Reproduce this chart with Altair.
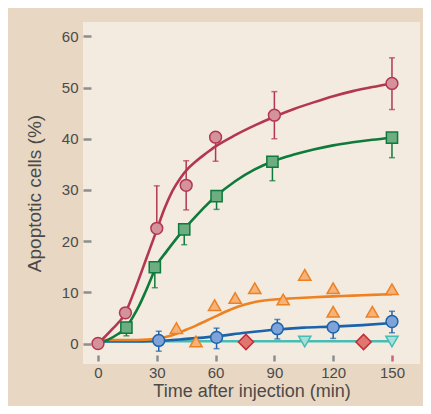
import altair as alt
import pandas as pd

# ---------------- data ----------------
# red circles
red_t = [0, 14, 30, 45, 60, 90, 150]
red_v = [0, 6.0, 22.5, 30.9, 40.3, 44.6, 50.8]
red_lo = [0, 6.0, 22.5, 26.1, 35.6, 40.0, 45.7]
red_hi = [0, 6.0, 30.8, 35.7, 40.3, 49.2, 55.8]
red_curve_t = [0, 7, 14, 18, 22, 26, 30, 34, 38, 42, 46, 50, 55, 60, 70, 80, 90, 100, 110, 120, 130, 140, 150]
red_curve_v = [0, 2.7, 6.0, 9.7, 13.8, 18.0, 22.2, 26.4, 29.8, 32.3, 34.2, 35.6, 37.1, 38.5, 40.7, 42.6, 44.3, 45.8, 47.1, 48.3, 49.3, 50.1, 50.8]

# green squares
green_t = [14.5, 29, 44, 60.5, 89, 150]
green_v = [3.1, 14.9, 22.3, 28.8, 35.5, 40.2]
green_lo = [1.5, 10.9, 19.3, 26.2, 31.8, 36.3]
green_hi = [3.1, 14.9, 22.3, 28.8, 35.5, 40.2]
green_curve_t = [0, 5, 10, 14.5, 18, 21, 24, 27, 30, 35, 40, 45, 50, 55, 60, 70, 80, 90, 100, 110, 120, 130, 140, 150]
green_curve_v = [0, 0.7, 1.8, 3.2, 5.3, 7.4, 9.9, 12.6, 15.3, 18.0, 20.5, 22.8, 24.9, 26.9, 28.7, 31.7, 34.0, 35.7, 36.9, 37.9, 38.7, 39.3, 39.8, 40.2]

# orange triangles (no error bars)
orange_t = [40, 50, 59.5, 70, 80, 94.5, 105.5, 120, 120, 140, 150]
orange_v = [3.0, 0.4, 7.5, 8.9, 10.8, 8.6, 13.4, 10.8, 6.2, 6.2, 10.6]
orange_curve_t = [0, 10, 20, 30, 35, 40, 45, 50, 55, 60, 65, 70, 75, 80, 85, 90, 100, 110, 120, 130, 140, 150]
orange_curve_v = [0.7, 0.7, 0.7, 0.9, 1.3, 1.9, 2.7, 3.5, 4.4, 5.3, 6.2, 7.0, 7.6, 8.1, 8.4, 8.6, 8.85, 9.05, 9.2, 9.35, 9.5, 9.65]

# blue circles
blue_t = [31, 60.5, 91.5, 120, 150]
blue_v = [0.6, 1.2, 2.9, 3.2, 4.3]
blue_lo = [-1.5, -1.0, 0.9, 1.0, 2.1]
blue_hi = [2.4, 3.0, 4.7, 3.2, 6.3]
blue_curve_t = [0, 15, 30, 45, 60, 75, 90, 105, 120, 135, 150]
blue_curve_v = [0.4, 0.4, 0.5, 0.9, 1.4, 2.1, 2.7, 3.1, 3.3, 3.6, 4.0]

# red diamonds
diam_t = [75.5, 135.5]
diam_v = [0.3, 0.3]

# cyan down-triangles
cyan_t = [105.5, 150]
cyan_v = [0.4, 0.4]
cyan_curve_t = [0, 150]
cyan_curve_v = [0.45, 0.45]

x_ticks = [0, 30, 60, 90, 120, 150]
y_ticks = [0, 10, 20, 30, 40, 50, 60]

# ---------------- styling ----------------
OUTER = "#E8D7C2"
INNER = "#F3EBDF"
TICK = "#8E8E8E"
TXT = "#4A4A4A"
FONT = "Liberation Sans"

xscale = alt.Scale(domain=[-7.65, 164.3], nice=False, zero=False)
yscale = alt.Scale(domain=[-4.0, 62.8], nice=False, zero=False)

xaxis = alt.Axis(
    values=x_ticks, title="Time after injection (min)", domain=False, grid=False,
    tickSize=6, tickWidth=2.5,
    tickColor={"condition": {"test": "datum.value === 150", "value": "#D0607A"}, "value": TICK},
    offset=-9, labelPadding=4, labelFontSize=15, labelColor=TXT, labelFont=FONT,
    titleFontSize=18, titleFont=FONT, titleColor=TXT, titleFontWeight="normal", titlePadding=2,
)
yaxis = alt.Axis(
    values=y_ticks, title="Apoptotic cells (%)", domain=False, grid=False,
    tickSize=8, tickWidth=2.5, tickColor=TICK,
    offset=-8, labelPadding=5, labelFontSize=15, labelColor=TXT, labelFont=FONT,
    titleFontSize=19, titleFont=FONT, titleColor=TXT, titleFontWeight="normal", titlePadding=17,
)


def X(field):
    return alt.X(f"{field}:Q", scale=xscale, axis=xaxis, title="Time after injection (min)")


def Y(field):
    return alt.Y(f"{field}:Q", scale=yscale, axis=yaxis, title="Apoptotic cells (%)")


def curve(ts, vs, color, width=2.6):
    df = pd.DataFrame({"t": ts, "v": vs})
    return alt.Chart(df).mark_line(color=color, strokeWidth=width, interpolate="monotone").encode(
        x=X("t"), y=Y("v")
    )


def errbars(ts, vs, los, his, color):
    df = pd.DataFrame({"t": ts, "v": vs, "lo": los, "hi": his})
    df = df[(df.hi > df.v) | (df.lo < df.v)]
    rules = alt.Chart(df).mark_rule(color=color, strokeWidth=1.5).encode(
        x=X("t"), y=Y("lo"), y2="hi"
    )
    caps_t, caps_v = [], []
    for t, v, lo, hi in zip(ts, vs, los, his):
        if hi > v:
            caps_t.append(t)
            caps_v.append(hi)
        if lo < v:
            caps_t.append(t)
            caps_v.append(lo)
    cdf = pd.DataFrame({"t": caps_t, "v": caps_v})
    caps = alt.Chart(cdf).mark_tick(color=color, orient="horizontal", size=6, thickness=1.5).encode(
        x=X("t"), y=Y("v")
    )
    return rules + caps


def points(ts, vs, shape, fill, stroke, size):
    df = pd.DataFrame({"t": ts, "v": vs})
    return alt.Chart(df).mark_point(
        shape=shape, filled=True, fill=fill, stroke=stroke, strokeWidth=1.5,
        size=size, opacity=1, fillOpacity=1, strokeOpacity=1
    ).encode(x=X("t"), y=Y("v"))


RED_S, RED_F = "#B3384F", "#D4939B"
GRN_S, GRN_F = "#0F7A3B", "#6CAD81"
ORG_S, ORG_F = "#EE8122", "#F5B27A"
BLU_S, BLU_F = "#1C63AA", "#7FA3D9"
DIA_S, DIA_F = "#C42B3A", "#E0776E"
CYN_S, CYN_F = "#47BDB5", "#A9DFD8"

layers = [
    curve(cyan_curve_t, cyan_curve_v, CYN_S),
    curve(blue_curve_t, blue_curve_v, BLU_S),
    curve(orange_curve_t, orange_curve_v, ORG_S),
    curve(green_curve_t, green_curve_v, GRN_S),
    curve(red_curve_t, red_curve_v, RED_S),
    errbars(blue_t, blue_v, blue_lo, blue_hi, BLU_S),
    errbars(green_t, green_v, green_lo, green_hi, GRN_S),
    errbars(red_t, red_v, red_lo, red_hi, RED_S),
    points(cyan_t, cyan_v, "triangle-down", CYN_F, CYN_S, 150),
    points(diam_t, diam_v, "diamond", DIA_F, DIA_S, 230),
    points(orange_t, orange_v, "triangle-up", ORG_F, ORG_S, 150),
    points(blue_t, blue_v, "circle", BLU_F, BLU_S, 140),
    points(green_t, green_v, "square", GRN_F, GRN_S, 125),
    points(red_t, red_v, "circle", RED_F, RED_S, 140),
]

chart = alt.layer(*layers).properties(
    width=337, height=342,
    autosize=alt.AutoSizeParams(type="none"),
    padding={"left": 75, "top": 14, "right": 3, "bottom": 42},
    background=OUTER,
).configure_view(fill=INNER, stroke=None)

chart.save("out.html", embed_options={"renderer": "svg", "actions": False})
